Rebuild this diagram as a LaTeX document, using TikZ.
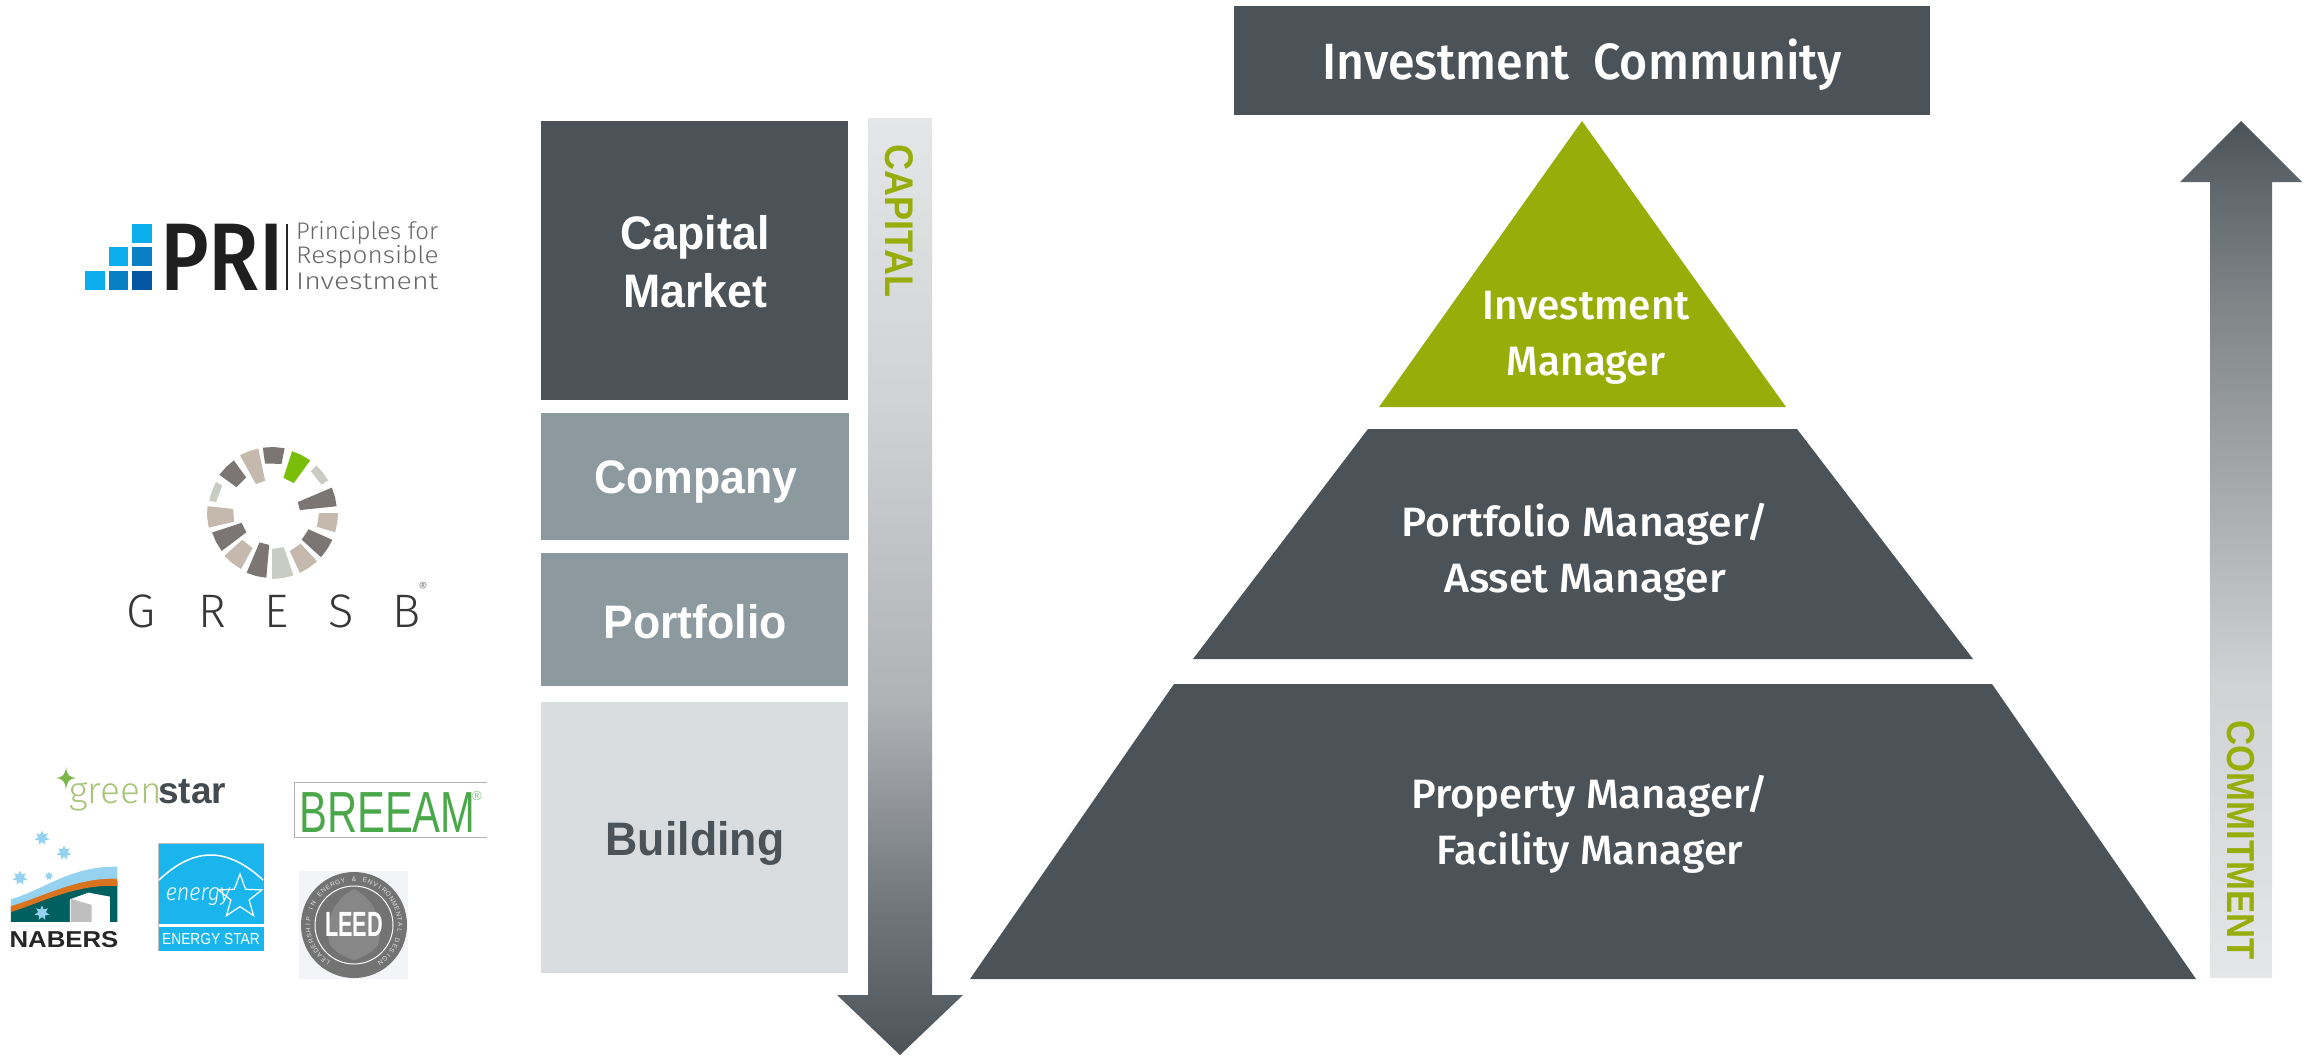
\documentclass[tikz,border=0pt]{standalone}
\usepackage{fontspec}
\usetikzlibrary{shapes.geometric}
\setmainfont{Fira Sans}
\newfontfamily\mainmed[UprightFont=* Medium]{Fira Sans}
\newfontfamily\logolight[UprightFont=* Light]{Fira Sans}
\newfontfamily\logoreg{Liberation Sans}
\definecolor{slate}{HTML}{4B5359}
\definecolor{steel}{HTML}{8C999F}
\definecolor{mist}{HTML}{D9DDE0}
\definecolor{olive}{HTML}{97AE0A}
\definecolor{gdark}{HTML}{7B7673}
\definecolor{gtan}{HTML}{C5B9AE}
\definecolor{glight}{HTML}{C9CCC2}
\definecolor{nteal}{HTML}{00605F}
\definecolor{nblue}{HTML}{94D2EF}
\definecolor{norange}{HTML}{D9731E}
\definecolor{estar}{HTML}{19B5EC}
\definecolor{breeam}{HTML}{4AA84A}
\definecolor{ga}{HTML}{E4E6E8}
\definecolor{gb}{HTML}{D0D2D4}
\definecolor{gc}{HTML}{B0B3B6}
\definecolor{gd}{HTML}{72777C}
\definecolor{ge}{HTML}{5E666B}
\definecolor{gf}{HTML}{7F8487}
\definecolor{prib}{HTML}{0BADEA}
\definecolor{prim}{HTML}{0A80C4}
\definecolor{prid}{HTML}{0556A5}
\definecolor{gsgreen}{HTML}{A8C57A}
\definecolor{gsstar}{HTML}{7AB648}
\definecolor{leedbg}{HTML}{F3F4F8}
\pgfdeclareverticalshading{downgrad}{100bp}{color(0bp)=(slate); color(25bp)=(slate); color(33bp)=(gd); color(44bp)=(gc); color(60bp)=(gb); color(75bp)=(ga); color(100bp)=(ga)}
\pgfdeclareverticalshading{upgrad}{100bp}{color(0bp)=(ga); color(25bp)=(ga); color(42bp)=(gb); color(64.5bp)=(gf); color(71.4bp)=(ge); color(75bp)=(slate); color(100bp)=(slate)}
\newcommand{\gseg}[5]{\fill[#5] ({272+#4*sin(#1)},{513-#4*cos(#1)}) -- ({272+#4*sin((#1+#2)/2)},{513-#4*cos((#1+#2)/2)}) -- ({272+#4*sin(#2)},{513-#4*cos(#2)}) -- ({272+#3*sin(#2)},{513-#3*cos(#2)}) -- ({272+#3*sin(#1)},{513-#3*cos(#1)}) -- cycle;}
\newcommand{\nstar}[3]{\node[star,star points=7,star point ratio=1.9,fill=nblue,minimum size=#3pt,inner sep=0pt] (#1) at #2 {};}
\tikzset{
  boxlbl/.style={text=white,align=center,font=\logoreg\bfseries\fontsize{47}{58}\selectfont,inner sep=0pt,xscale=.95},
  sidelbl/.style={text=olive,inner sep=0pt,font=\logoreg\bfseries\fontsize{40}{40}\selectfont},
  pyrlbl/.style={text=white,align=center,font=\mainmed\fontsize{41}{56}\selectfont,inner sep=0pt,xscale=1.04},
  prilbl/.style={anchor=west,inner sep=0pt,text=black!60,font=\logolight\fontsize{24}{26}\selectfont},
}
\begin{document}
\begin{tikzpicture}[x=1pt,y=-1pt]
\useasboundingbox (0,0) rectangle (2312,1055);
\fill[white] (0,0) rectangle (2312,1055);
% left stack
\fill[slate] (541,121) rectangle (848,400);
\fill[steel] (541,413) rectangle (849,540);
\fill[steel] (541,553) rectangle (848,686);
\fill[mist]  (541,702) rectangle (848,973);
\node[boxlbl] (capital) at (695,262) {Capital\\Market};
\node[boxlbl] (company) at (696,482) {Company};
\node[boxlbl] (portfolio) at (695,622) {Portfolio};
\node[boxlbl,text=slate] (building) at (695,843) {Building};
% arrows
\shade[shading=downgrad] (868,118) -- (932,118) -- (932,995) -- (963,995) -- (900,1055) -- (837,995) -- (868,995) -- cycle;
\shade[shading=upgrad] (2241,121) -- (2302,182) -- (2272,182) -- (2272,978) -- (2210,978) -- (2210,182) -- (2180,182) -- cycle;
\node[sidelbl,rotate=-90,xscale=.9] (cap) at (899,221) {CAPITAL};
\node[sidelbl,rotate=-90,xscale=.89,font=\logoreg\bfseries\fontsize{39}{39}\selectfont] (com) at (2241,840) {COMMITMENT};
% pyramid
\fill[slate] (1234,6) rectangle (1930,115);
\node[pyrlbl,xscale=.91,font=\mainmed\fontsize{51}{56}\selectfont] (ic) at (1582,65) {Investment\ \ Community};
\fill[olive] (1582,121) -- (1786,407) -- (1379,407) -- cycle;
\fill[slate] (1368,429) -- (1797,429) -- (1973,659) -- (1193,659) -- cycle;
\fill[slate] (1174,684) -- (1992,684) -- (2196,979) -- (970,979) -- cycle;
\node[pyrlbl,xscale=.95] (im) at (1586,338) {Investment\\Manager};
\node[pyrlbl] (pm) at (1585,552) {Portfolio Manager/\\Asset Manager};
\node[pyrlbl,xscale=.98] (fm) at (1590,824) {Property Manager/\\Facility Manager};
% PRI logo
\fill[prib] (132,224) rectangle (152,243);
\fill[prib] (109,247) rectangle (128,266);
\fill[prim] (132,247) rectangle (152,266);
\fill[prib] (85,271) rectangle (105,290);
\fill[prim] (109,271) rectangle (128,290);
\fill[prid] (132,271) rectangle (152,290);
\node[anchor=west,inner sep=0pt,text=black!88,font=\mainmed\fontsize{96}{96}\selectfont,xscale=.86] (pri) at (160,257) {PRI};
\fill[black!85] (286,224) rectangle (288,290);
\node[prilbl] (pri1) at (296,233) {Principles for};
\node[prilbl,xscale=1.09] (pri2) at (296,257) {Responsible};
\node[prilbl,xscale=1.19] (pri3) at (296,281) {Investment};
% GRESB logo
\gseg{-8}{11}{50}{66}{gdark}
\gseg{18}{36}{37}{65}{olive!80!green}
\gseg{43}{60}{57}{65}{glight}
\gseg{67}{84}{28}{65}{gdark}
\gseg{90}{107}{47}{66}{gtan}
\gseg{114}{132}{40}{66}{gdark}
\gseg{137}{155}{42}{66}{gtan}
\gseg{161}{180}{36}{66}{glight}
\gseg{185}{203}{32}{65}{gdark}
\gseg{209}{228}{40}{64}{gtan}
\gseg{233}{252}{32}{63}{gdark}
\gseg{257}{276}{39}{65}{gtan}
\gseg{281}{299}{57}{64}{glight}
\gseg{306}{324}{44}{65}{gdark}
\gseg{331}{348}{33}{66}{gtan}
\foreach \nm/\ch/\px in {gra/G/141,grb/R/212,grc/E/277,grd/S/341,gre/B/407}
  \node[inner sep=0pt,text=black!78,font=\logolight\fontsize{47}{47}\selectfont] (\nm) at (\px,611) {\ch};
\node[inner sep=0pt,text=black!60,font=\logolight\fontsize{14}{14}\selectfont] (greg) at (423,587) {®};
% greenstar
\fill[gsstar] (66,767) .. controls (67,775) and (69,777) .. (76,778) .. controls (69,779) and (67,781) .. (66,790) .. controls (65,781) and (63,779) .. (56,778) .. controls (63,777) and (65,775) .. (66,767) -- cycle;
\node[anchor=base west,inner sep=0pt,text=gsgreen,font=\logolight\fontsize{37}{37}\selectfont] (gs1) at (69,803) {green};
\node[anchor=base west,inner sep=0pt,text=slate!90!black,font=\logoreg\bfseries\fontsize{37}{37}\selectfont] (gs2) at (158,803) {star};
% BREEAM
\draw[black!30,line width=1pt] (487,782) -- (294,782) -- (294,837) -- (487,837);
\node[inner sep=0pt,text=breeam,font=\logoreg\fontsize{58}{58}\selectfont,anchor=base west,xscale=.72] (br) at (299,832) {BREEAM};
\node[inner sep=0pt,text=breeam!70!white,font=\logoreg\fontsize{13}{13}\selectfont] (brreg) at (477,796) {®};
% NABERS
\begin{scope}[shift={(0,740)},x=0.3333pt,y=-0.3333pt]
\fill[nteal] (33,500) .. controls (130,470) and (210,425) .. (352,425) -- (352,546) -- (33,546) -- cycle;
\fill[norange] (33,495) .. controls (130,465) and (210,410) .. (352,415) -- (352,438) .. controls (230,432) and (130,485) .. (33,516) -- cycle;
\fill[nblue] (33,478) .. controls (130,450) and (210,378) .. (352,380) -- (352,416) .. controls (230,412) and (130,470) .. (33,498) -- cycle;
\fill[white] (210,478) -- (265,458) -- (330,470) -- (330,546) -- (210,546) -- cycle;
\fill[black!25] (212,476) -- (275,495) -- (275,546) -- (212,546) -- cycle;
\end{scope}
\nstar{ns1}{(42,838)}{15}
\nstar{ns2}{(64,853)}{15}
\nstar{ns3}{(20,878)}{15}
\nstar{ns4}{(49,876)}{9}
\nstar{ns5}{(42,913)}{15}
\node[anchor=base,inner sep=0pt,text=black!85,font=\logoreg\bfseries\fontsize{23}{23}\selectfont,xscale=1.12] (nab) at (64,947) {NABERS};
% ENERGY STAR
\fill[estar] (158,843) rectangle (264,951);
\draw[black!25,line width=1pt] (158,951) -- (158,843) -- (264,843);
\fill[white] (159,924) rectangle (264,927);
\draw[white,line width=1.5pt] (159,880) .. controls (178,862) and (195,855) .. (211,855) .. controls (228,855) and (246,864) .. (263,880);
\node[star,star points=5,star point ratio=2.4,draw=white,fill=estar,line width=1.2pt,minimum size=46pt,inner sep=0pt] (esstar) at (240,897) {};
\node[inner sep=0pt,text=white,font=\itshape\logolight\fontsize{24}{24}\selectfont,xscale=.9] (eng) at (198,897) {energy};
\node[inner sep=0pt,text=white,font=\logoreg\fontsize{16}{16}\selectfont,xscale=.86] (estxt) at (211,939) {ENERGY STAR};
% LEED
\fill[leedbg] (299,871) rectangle (408,979);
\fill[black!55] (354,925) circle (53);
\draw[white,line width=1pt] (354,925) circle (39);
\fill[black!47] (354,889) .. controls (376,900) and (384,925) .. (378,945) .. controls (370,955) and (360,958) .. (354,960) .. controls (348,958) and (338,955) .. (330,945) .. controls (324,925) and (332,900) .. (354,889) -- cycle;
\node[inner sep=0pt,text=white,font=\logoreg\bfseries\fontsize{35}{35}\selectfont,xscale=.62] (leed) at (354,924) {LEED};
\foreach \ch [count=\i] in {L,E,A,D,E,R,S,H,I,P,{},I,N,{},E,N,E,R,G,Y,{},\&,{},E,N,V,I,R,O,N,M,E,N,T,A,L,{},D,E,S,I,G,N}
  \node[inner sep=0pt,text=black!12,font=\logoreg\fontsize{6.5}{6.5}\selectfont,rotate={-(-145+(\i-1)*6.9)}] (lt\i) at ({354+46*sin(-145+(\i-1)*6.9)},{925-46*cos(-145+(\i-1)*6.9)}) {\ch};
\end{tikzpicture}
\end{document}
